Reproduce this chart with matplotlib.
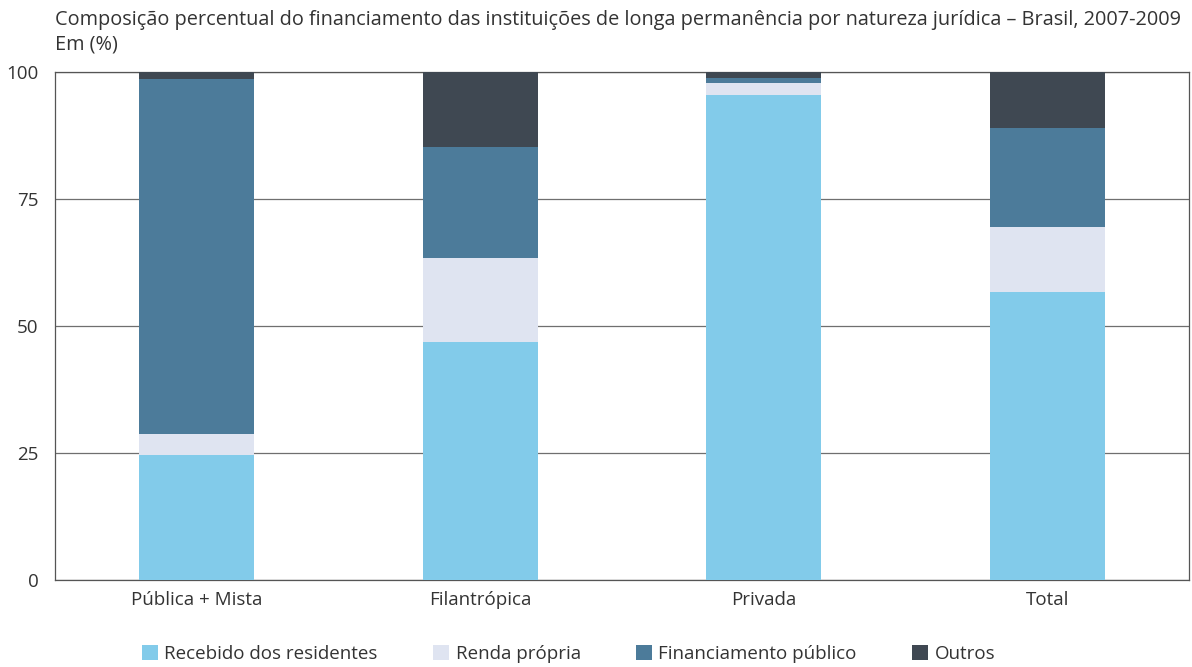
import numpy as np
import matplotlib
matplotlib.use("Agg")
import matplotlib.pyplot as plt

plt.rcParams["font.family"] = ["Open Sans", "DejaVu Sans"]

categorias = ["Pública + Mista", "Filantrópica", "Privada", "Total"]
residentes = [24.6, 46.9, 95.5, 56.7]
renda_propria = [4.1, 16.5, 2.3, 12.8]
financ_publico = [69.9, 21.8, 1.0, 19.5]
outros = [1.4, 14.8, 1.2, 11.0]

series = [
    ("Recebido dos residentes", residentes, "#82cbea"),
    ("Renda própria", renda_propria, "#dfe4f1"),
    ("Financiamento público", financ_publico, "#4c7b9a"),
    ("Outros", outros, "#3f4852"),
]

fig = plt.figure(figsize=(11.92, 6.67), dpi=100)
ax = fig.add_axes([0.0461, 0.1304, 0.9513, 0.7616])

x = np.arange(len(categorias))
bottom = np.zeros(len(categorias))
for nome, vals, cor in series:
    ax.bar(x, vals, 0.405, bottom=bottom, color=cor, label=nome, zorder=3)
    bottom += np.array(vals)

ax.set_xlim(-0.5, 3.5)
ax.set_ylim(0, 100)
ax.set_yticks([0, 25, 50, 75, 100])
ax.set_xticks(x)
ax.set_xticklabels(categorias, fontsize=13.5, color="#333333")
ax.tick_params(axis="y", labelsize=13.5, labelcolor="#333333", length=0, pad=12)
ax.tick_params(axis="x", length=0, pad=8)
ax.yaxis.grid(True, color="#6f6f6f", lw=0.9, zorder=0)
for s in ax.spines.values():
    s.set_color("#555555")
    s.set_linewidth(0.9)

fig.text(0.0461, 0.970, "Composição percentual do financiamento das instituições de longa permanência por natureza jurídica – Brasil, 2007-2009",
         fontsize=14.3, color="#333333", ha="left", va="center")
fig.text(0.0461, 0.933, "Em (%)", fontsize=14.3, color="#333333", ha="left", va="center")

fig.legend(loc="center", bbox_to_anchor=(0.477, 0.02), ncol=4, frameon=False,
           fontsize=13.5, handlelength=0.85, handleheight=0.85, handletextpad=0.35,
           columnspacing=2.95, labelcolor="#333333")

fig.savefig("out.png", dpi=100)
